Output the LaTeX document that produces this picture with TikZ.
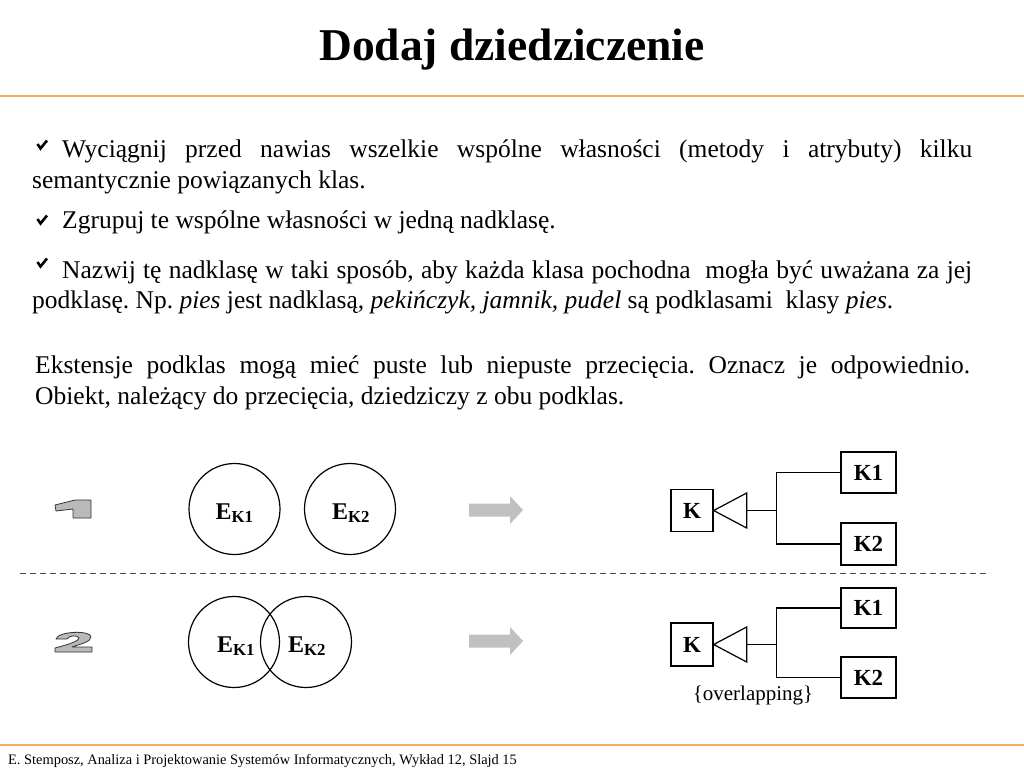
\documentclass[tikz,border=0pt]{standalone}
\usepackage{fontspec}
\setmainfont{Liberation Serif}
\usetikzlibrary{calc}
\definecolor{rule}{RGB}{240,176,96}
\definecolor{arrowgray}{RGB}{192,192,192}
\definecolor{numgray}{RGB}{185,185,185}
\frenchspacing
\begin{document}
\begin{tikzpicture}[x=1pt,y=-1pt,
  body/.style={anchor=base west,inner sep=0pt,font=\fontsize{25.5}{31}\selectfont},
  chkmark/.style={line width=2.6pt,line join=miter,line cap=butt},
  setc/.style={circle,draw,line width=1.2pt,minimum size=91pt,inner sep=0pt},
  setlab/.style={anchor=base,inner sep=0pt,font=\fontsize{24}{24}\selectfont\bfseries},
  cls/.style={draw,line width=1.3pt,inner sep=0pt,font=\fontsize{23}{23}\selectfont\bfseries},
  conn/.style={line width=1.2pt},
  bigarrow/.style={fill=arrowgray,draw=none},
  numshape/.style={fill=numgray,draw=black!80,line width=0.8pt,line join=round}
]
\useasboundingbox (0,0) rectangle (1024,768);
% title
\node[anchor=base,inner sep=0pt,font=\fontsize{45.5}{45.5}\selectfont\bfseries] (title) at (512,60) {Dodaj dziedziczenie};
\draw[rule,line width=1.5pt] (0,96) coordinate (hl) -- (1024,96) coordinate (hr);
% bullets
\draw[chkmark] (37.5,144) -- (40.5,148.5) -- (47,140.5);
\node[body] (l1) at (62,157) {\makebox[910pt][s]{Wyciągnij przed nawias wszelkie wspólne własności (metody i atrybuty) kilku}};
\node[body] (l2) at (32,188) {semantycznie powiązanych klas.};
\draw[chkmark] (37.5,219) -- (40.5,223.5) -- (47,215.5);
\node[body] (l3) at (62,228) {Zgrupuj te wspólne własności w jedną nadklasę.};
\draw[chkmark] (37.5,262) -- (40.5,266.5) -- (47,258.5);
\node[body] (l4) at (62,278) {\makebox[910pt][s]{Nazwij tę nadklasę w taki sposób, aby każda klasa pochodna\ \ mogła być uważana za jej}};
\node[body] (l5) at (32,308) {podklasę. Np. \textit{pies} jest nadklasą, \textit{pekińczyk, jamnik, pudel} są podklasami\ \ klasy \textit{pies}.};
\node[body] (p1) at (35,373) {\makebox[935pt][s]{Ekstensje podklas mogą mieć puste lub niepuste przecięcia. Oznacz je odpowiednio.}};
\node[body] (p2) at (35,404) {Obiekt, należący do przecięcia, dziedziczy z obu podklas.};
% separator
\draw[black!70,line width=1pt,dash pattern=on 6pt off 4pt] (20,573) coordinate (dl) -- (990,573) coordinate (dr);
% numbers
\draw[numshape] (55,505) -- (75,500) -- (91,500) -- (91,518) -- (73,518) -- (73,509) -- (56,511) -- cycle;
\draw[numshape] (56,639) .. controls (58,631) and (91,630) .. (91,637) .. controls (91,642) and (80,644) .. (72,647) -- (92,647) -- (92,652) -- (55,652) -- (55,648) .. controls (70,644) and (79,641) .. (79,638) .. controls (78,635) and (69,635) .. (67,639) -- cycle;
% row 1 sets
\node[setc] (a1) at (234.5,509) {};
\node[setc] (a2) at (350,509) {};
\node[setlab] (la1) at (234.5,519) {E\textsubscript{K1}};
\node[setlab] (la2) at (351,519) {E\textsubscript{K2}};
% row 2 sets
\node[setc] (b1) at (234,642) {};
\node[setc] (b2) at (306,642) {};
\node[setlab] (lb1) at (236,652) {E\textsubscript{K1}};
\node[setlab] (lb2) at (307,652) {E\textsubscript{K2}};
% arrows
\fill[bigarrow] (469,503.5) -- (510,503.5) -- (510,496) -- (523,510) -- (510,524) -- (510,516.5) -- (469,516.5) -- cycle;
\fill[bigarrow] (469,634.5) -- (510,634.5) -- (510,627) -- (523,641) -- (510,655) -- (510,647.5) -- (469,647.5) -- cycle;
% UML row 1
\node[cls,minimum width=42pt,minimum height=42pt] (k) at (692,510.5) {K};
\node[cls,minimum width=55pt,minimum height=41pt] (k1) at (868.5,472.5) {K1};
\node[cls,minimum width=55pt,minimum height=42pt] (k2) at (868.5,544) {K2};
\draw[conn] (k.east) -- ++(33,-17.5) -- ++(0,35) -- cycle;
\coordinate (t1) at ($(k.east)+(33,0)$);
\coordinate (j1) at ($(t1)+(30,0)$);
\draw[conn] (t1) -- (j1);
\draw[conn] (k1.west) -| (j1) |- (k2.west);
% UML row 2
\node[cls,minimum width=42pt,minimum height=43pt] (kb) at (692,644.5) {K};
\node[cls,minimum width=55pt,minimum height=40pt] (kb1) at (868.5,608) {K1};
\node[cls,minimum width=55pt,minimum height=41pt] (kb2) at (868.5,677.5) {K2};
\draw[conn] (kb.east) -- ++(33,-17.5) -- ++(0,35) -- cycle;
\coordinate (t2) at ($(kb.east)+(33,0)$);
\coordinate (j2) at ($(t2)+(30,0)$);
\draw[conn] (t2) -- (j2);
\draw[conn] (kb1.west) -| (j2) |- (kb2.west);
\node[anchor=base,inner sep=0pt,font=\fontsize{21}{21}\selectfont] (ov) at (753,700) {\{overlapping\}};
% footer
\draw[rule,line width=1.5pt] (0,745) coordinate (fl) -- (1024,745) coordinate (fr);
\node[anchor=base west,inner sep=0pt,font=\fontsize{14.4}{14.4}\selectfont] (foot) at (8,764) {E. Stemposz, Analiza i Projektowanie Systemów Informatycznych, Wykład 12, Slajd 15};
\end{tikzpicture}
\end{document}
